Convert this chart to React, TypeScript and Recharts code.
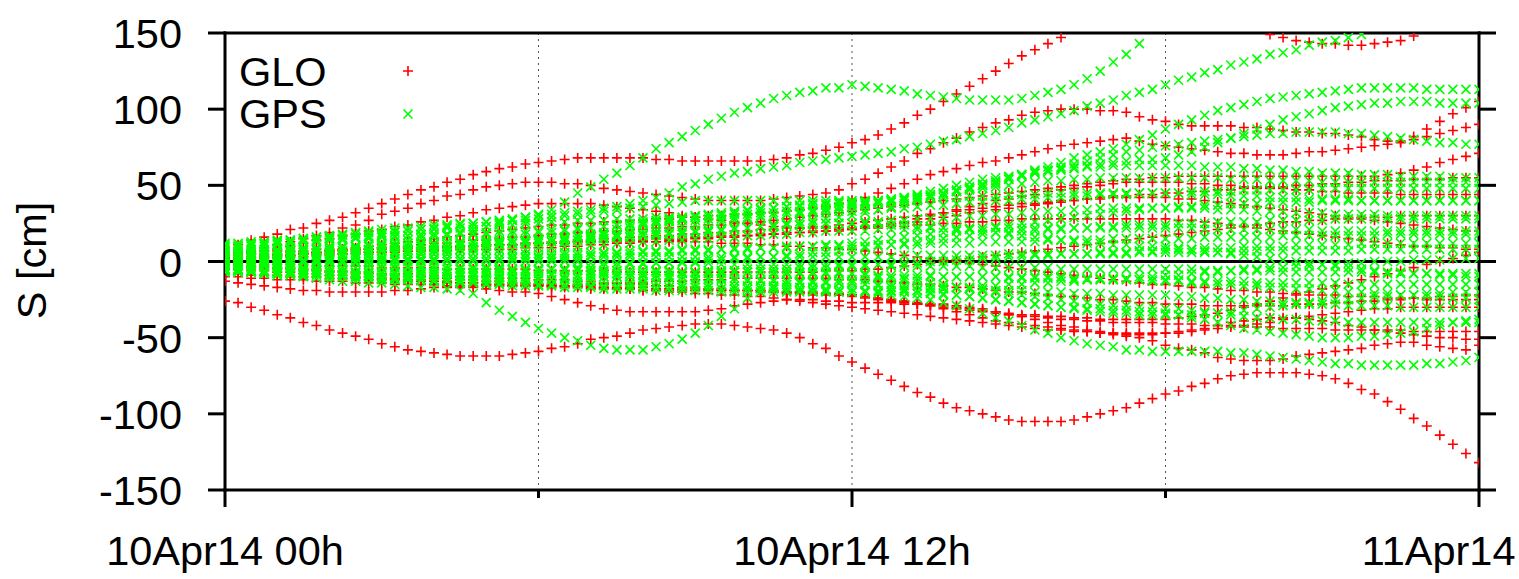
import React from 'react';
import { ScatterChart, Scatter, XAxis, YAxis, CartesianGrid, ReferenceLine, Legend } from 'recharts';

// one epoch every 15 minutes, 97 epochs over the day
const STEP_HOURS = 0.25;
const X_TICKS = [0, 6, 12, 18, 24];
const X_LABELS: Record<number, string> = { 0: '10Apr14 00h', 12: '10Apr14 12h', 24: '11Apr14 00h' };
const Y_TICKS = [-150, -100, -50, 0, 50, 100, 150];

const GLO_COLOR = '#ff0000';
const GPS_COLOR = '#00ff00';
const FONT = "'Liberation Sans', Arial, Helvetica, sans-serif";

// ---- GLO satellites (cm) ----
const GLO_R01 = [-26,-27,-30,-32,-35,-37,-40,-42,-45,-47,-49,-51,
  -54,-56,-58,-59,-60,-61,-62,-62,-62,-62,-61,-60,
  -59,-57,-56,-54,-51,-50,-49,-47,-45,-44,-43,-42,
  -41,-41,-41,-42,-43,-44,-45,-47,-50,-54,-57,-62,
  -66,-70,-74,-78,-82,-86,-89,-93,-96,-98,-100,-102,
  -104,-105,-105,-105,-105,-104,-102,-100,-98,-96,-93,-90,
  -87,-85,-82,-80,-77,-75,-74,-73,-73,-73,-73,-74,
  -75,-77,-80,-84,-87,-92,-97,-103,-108,-114,-120,-126,
  -132];
const GLO_R02 = [9,11,14,16,18,21,22,25,27,29,32,35,
  38,41,44,47,49,52,54,57,59,61,62,64,
  65,66,67,68,68,68,68,68,68,67,67,66,
  66,66,66,66,66,66,67,68,70,71,73,75,
  78,80,83,87,91,96,100,105,110,115,120,125,
  130,135,139,143,147,151,155,159,162,164,165,165,
  164,162,160,157,155,153,152,151,149,147,145,144,
  143,143,142,142,143,144,145,148,151,154,157,160,
  163];
const GLO_R04 = [3,5,7,9,11,13,15,17,19,22,24,27,
  31,33,35,38,40,43,44,47,49,50,51,52,
  52,52,51,51,50,48,47,46,45,44,43,42,
  41,40,40,40,40,40,41,42,43,44,45,47,
  51,54,58,62,66,71,74,78,81,85,88,91,
  93,96,98,99,100,100,100,99,99,98,95,93,
  92,90,89,89,89,89,88,88,87,86,85,85,
  84,84,83,82,80,79,79,82,87,92,97,101,
  105];
const GLO_R05 = [0,1,2,3,3,4,5,6,7,8,9,10,
  11,12,13,14,15,16,17,18,19,20,21,22,
  23,24,24,25,25,26,26,27,27,28,28,29,
  29,30,30,31,31,32,32,33,34,35,36,38,
  40,42,45,48,51,54,57,59,61,63,65,66,
  68,70,72,74,76,77,78,79,80,81,79,77,
  76,75,74,73,72,71,71,70,70,70,71,72,
  72,73,74,75,76,77,78,80,82,84,86,88,
  90];
const GLO_R06 = [-5,-5,-6,-6,-7,-7,-8,-8,-9,-9,-10,-10,
  -11,-11,-12,-12,-13,-13,-14,-14,-15,-15,-16,-16,
  -16,-17,-17,-17,-18,-18,-18,-18,-19,-19,-19,-19,
  -19,-19,-19,-19,-19,-19,-19,-20,-20,-20,-21,-21,
  -22,-23,-24,-25,-26,-28,-29,-31,-33,-35,-37,-39,
  -40,-41,-42,-43,-44,-45,-46,-47,-48,-49,-50,-52,
  -55,-57,-58,-60,-63,-64,-65,-65,-65,-64,-62,-61,
  -60,-59,-58,-57,-55,-54,-53,-53,-55,-56,-57,-58,
  -55];
const GLO_R08 = [-13,-14,-15,-16,-17,-18,-19,-19,-20,-20,-20,-20,
  -20,-19,-19,-18,-17,-17,-17,-17,-18,-19,-20,-20,
  -21,-23,-25,-27,-29,-31,-32,-33,-33,-33,-33,-33,
  -33,-32,-31,-29,-28,-27,-26,-25,-25,-25,-26,-26,
  -27,-27,-27,-27,-28,-28,-28,-28,-29,-30,-31,-33,
  -35,-36,-38,-40,-42,-43,-45,-46,-47,-48,-48,-48,
  -47,-46,-45,-44,-42,-40,-39,-38,-37,-37,-37,-38,
  -39,-40,-42,-43,-45,-46,-47,-48,-49,-50,-50,-51,
  -51];
const GLO_R09 = [1,2,2,3,4,4,5,6,6,7,8,8,
  9,10,10,11,12,12,13,14,14,15,16,16,
  17,18,18,19,19,20,20,21,21,22,22,23,
  23,24,24,25,25,26,27,28,29,30,31,32,
  33,34,35,36,37,38,39,40,41,42,43,44,
  45,46,47,48,49,50,51,52,53,54,54,55,
  55,56,56,56,56,56,56,56,56,56,56,56,
  56,56,56,56,56,57,58,60,62,65,67,69,
  71];
const GLO_R10 = [2,3,5,7,8,10,12,14,15,17,18,20,
  21,23,24,26,27,29,30,32,34,35,36,37,
  38,38,38,38,38,37,36,35,34,33,32,30,
  29,28,27,26,25,24,23,23,22,22,22,22,
  22,23,24,25,26,28,30,32,34,36,38,40,
  41,43,44,46,47,48,49,50,51,52,52,52,
  52,52,51,51,50,50,49,49,48,48,47,47,
  46,46,45,45,45,45,44,44,44,44,44,44,
  44];
const GLO_R11 = [0,1,1,2,2,3,3,4,4,5,5,6,
  6,7,7,8,8,9,9,10,10,11,11,12,
  12,13,13,14,14,15,15,16,16,17,17,18,
  18,19,19,20,20,21,21,22,22,23,23,24,
  25,26,27,28,29,30,31,32,33,34,35,36,
  37,38,38,39,40,40,41,41,42,42,42,42,
  42,41,41,40,39,38,37,36,35,34,33,32,
  31,30,29,28,27,26,25,24,23,22,21,20,
  20];
const GLO_R12 = [-3,-3,-4,-4,-5,-5,-6,-6,-7,-7,-8,-8,
  -9,-9,-10,-10,-11,-11,-12,-12,-13,-13,-14,-14,
  -15,-15,-16,-16,-17,-17,-18,-18,-19,-19,-20,-20,
  -21,-21,-22,-22,-23,-23,-24,-25,-26,-27,-28,-29,
  -30,-31,-32,-33,-34,-35,-36,-37,-38,-39,-40,-41,
  -42,-43,-44,-45,-45,-46,-46,-47,-47,-47,-47,-47,
  -47,-47,-46,-45,-44,-43,-42,-41,-40,-38,-37,-36,
  -35,-34,-33,-32,-31,-31,-30,-30,-30,-30,-30,-30,
  -30];
const GLO_R13 = [-8,-8,-9,-9,-9,-10,-10,-10,-11,-11,-11,-12,
  -12,-12,-13,-13,-13,-14,-14,-14,-15,-15,-15,-15,
  -15,-16,-16,-16,-16,-17,-17,-17,-17,-18,-18,-18,
  -18,-18,-19,-19,-19,-19,-20,-20,-20,-21,-21,-22,
  -22,-23,-24,-25,-26,-27,-28,-29,-30,-31,-32,-33,
  -34,-35,-35,-36,-36,-37,-37,-38,-38,-38,-38,-38,
  -38,-37,-36,-35,-34,-32,-30,-28,-26,-24,-22,-20,
  -18,-16,-14,-12,-10,-8,-6,-4,-2,0,2,4,
  6];
const GLO_R14 = [4,4,5,5,5,6,6,6,7,7,7,8,
  8,8,9,9,9,10,10,10,11,11,11,12,
  12,12,12,13,13,13,13,13,13,13,13,13,
  13,13,12,12,12,11,11,10,10,9,9,8,
  8,7,6,5,4,3,2,1,0,-1,-2,-3,
  -4,-5,-6,-7,-8,-9,-10,-11,-12,-13,-14,-15,
  -15,-16,-17,-17,-18,-19,-19,-20,-20,-21,-21,-22,
  -22,-22,-23,-23,-23,-24,-24,-24,-25,-25,-25,-25,
  -25];
const GLO_R15 = [-1,-1,-1,-2,-2,-2,-2,-3,-3,-3,-3,-3,
  -4,-4,-4,-4,-4,-5,-5,-5,-5,-5,-5,-5,
  -6,-6,-6,-6,-6,-6,-7,-7,-7,-7,-7,-7,
  -7,-7,-7,-7,-7,-7,-7,-7,-7,-7,-6,-6,
  -6,-5,-5,-4,-3,-2,-1,0,1,2,3,4,
  5,6,7,8,9,10,11,12,13,14,15,16,
  17,18,19,20,21,22,23,24,25,26,26,27,
  27,28,28,29,29,29,30,30,30,30,30,30,
  30];
const GLO_R16 = [6,6,6,7,7,7,7,8,8,8,8,8,
  9,9,9,9,10,10,10,10,11,11,11,11,
  12,12,12,13,13,13,14,14,14,15,15,15,
  16,16,17,17,17,18,18,19,19,20,20,21,
  21,22,22,23,23,24,24,25,25,26,26,27,
  27,28,28,28,28,28,28,28,28,28,28,28,
  28,27,27,26,25,24,23,22,21,20,19,18,
  17,16,15,14,13,12,11,10,10,9,9,8,
  8];
const GLO_R17 = [-10,-10,-11,-11,-12,-12,-12,-13,-13,-13,-14,-14,
  -14,-15,-15,-15,-15,-16,-16,-16,-16,-16,-16,-16,
  -16,-16,-16,-15,-15,-15,-14,-14,-14,-13,-13,-13,
  -12,-12,-12,-11,-11,-11,-11,-11,-11,-11,-11,-12,
  -12,-12,-13,-13,-14,-15,-15,-16,-17,-17,-18,-19,
  -20,-20,-21,-22,-23,-23,-24,-25,-25,-26,-27,-27,
  -28,-28,-28,-29,-29,-29,-29,-29,-29,-29,-28,-28,
  -28,-27,-27,-26,-26,-25,-25,-24,-24,-23,-23,-22,
  -22];
const GLO_R18 = [-2,-2,-3,-3,-4,-4,-5,-5,-6,-6,-7,-7,
  -8,-8,-8,-9,-9,-9,-10,-10,-10,-11,-11,-11,
  -12,-12,-12,-13,-13,-14,-14,-15,-15,-16,-16,-17,
  -17,-18,-18,-19,-19,-20,-20,-21,-21,-22,-22,-22,
  -23,-24,-25,-26,-27,-28,-29,-30,-31,-32,-33,-34,
  -35,-36,-36,-37,-38,-38,-39,-39,-40,-40,-40,-40,
  -41,-41,-41,-42,-42,-42,-43,-43,-43,-44,-44,-44,
  -44,-45,-45,-45,-45,-45,-45,-46,-46,-46,-46,-46,
  -46];
const GLO_R19 = [3,3,3,4,4,4,5,5,5,5,6,6,
  6,6,7,7,7,7,8,8,8,8,8,9,
  9,9,10,10,11,11,12,12,13,13,14,14,
  15,15,16,16,17,17,18,18,19,19,20,20,
  21,22,23,24,25,26,28,29,30,32,33,34,
  35,36,37,38,39,40,41,42,43,43,44,44,
  45,45,46,46,47,47,48,48,49,49,50,50,
  51,51,52,52,53,53,53,54,54,54,55,55,
  55];

// ---- GPS satellites (cm) ----
const GPS_G01 = [4,5,5,6,6,7,7,8,8,9,10,11,
  12,13,14,15,16,17,19,21,23,25,27,29,
  31,34,39,45,49,54,58,63,68,74,78,82,
  86,90,94,98,101,104,107,109,111,112,114,114,
  116,115,114,113,112,110,109,108,107,106,106,106,
  106,107,109,111,113,116,120,125,131,136,143,151,
  157,164,170,176,181,186,190,193,196,198,199,200,
  200,199,198,196,193,190,186,182,177,172,167,162,
  157];
const GPS_G02 = [8,9,10,10,11,12,13,14,15,15,16,17,
  18,19,20,21,22,23,24,25,26,27,28,29,
  30,31,32,33,34,35,36,38,40,42,45,49,
  51,54,56,58,59,61,62,63,65,66,67,68,
  69,70,71,72,74,75,77,79,80,82,84,86,
  88,91,93,95,97,99,102,104,106,109,111,113,
  116,119,121,124,126,129,131,133,136,137,139,142,
  144,145,147,149,152,154,156,158,160,162,164,165,
  166];
const GPS_G03 = [-2,-1,-1,0,0,1,1,2,2,3,3,4,
  4,5,5,6,7,7,8,9,10,11,12,13,
  14,15,16,17,18,19,21,22,24,25,27,28,
  29,30,31,32,33,34,35,36,37,38,38,39,
  39,39,40,40,41,42,43,44,46,48,50,51,
  54,57,60,62,65,68,70,72,74,77,80,83,
  87,90,93,96,99,101,103,105,107,108,109,110,
  111,112,113,114,114,114,114,114,113,113,113,113,
  113];
const GPS_G04 = [3,3,4,4,5,5,6,6,7,7,8,8,
  9,9,10,10,11,11,12,12,13,13,14,14,
  15,15,16,17,17,18,18,19,20,21,22,23,
  24,25,26,27,28,29,30,31,32,33,34,35,
  36,37,38,39,40,41,43,45,47,49,51,53,
  55,57,59,60,61,62,63,64,65,66,67,67,
  68,70,72,75,78,81,84,87,90,93,95,97,
  99,101,102,103,104,104,105,105,105,104,104,104,
  104];
const GPS_G05 = [1,1,2,2,3,3,4,4,5,5,6,6,
  7,7,8,8,9,9,10,10,11,11,12,12,
  13,13,14,14,15,15,16,16,17,17,18,18,
  19,19,20,21,22,23,24,25,26,27,28,29,
  30,32,34,36,38,40,42,44,46,48,50,52,
  54,56,58,60,62,64,66,68,70,72,73,75,
  76,77,78,79,80,81,82,83,84,84,85,85,
  85,85,84,84,83,82,81,80,79,78,78,77,
  77];
const GPS_G06 = [-6,-7,-7,-8,-9,-9,-10,-11,-12,-13,-13,-14,
  -14,-15,-16,-17,-17,-18,-19,-21,-27,-32,-36,-40,
  -44,-47,-50,-52,-55,-57,-58,-58,-58,-56,-54,-51,
  -47,-42,-36,-31,-24,-20,-17,-15,-14,-13,-13,-12,
  -12,-12,-11,-11,-11,-11,-10,-10,-10,-10,-10,-10,
  -10,-10,-10,-10,-10,-11,-11,-11,-12,-12,-12,-13,
  -13,-13,-14,-14,-15,-15,-16,-16,-17,-17,-18,-18,
  -19,-19,-20,-20,-21,-21,-22,-22,-23,-23,-24,-24,
  -25];
const GPS_G07 = [-6,-6,-7,-7,-8,-8,-9,-9,-10,-10,-11,-11,
  -12,-12,-12,-12,-13,-13,-13,-13,-14,-14,-14,-14,
  -15,-15,-15,-15,-16,-16,-16,-16,-16,-17,-17,-17,
  -17,-17,-18,-18,-18,-18,-18,-19,-19,-19,-19,-20,
  -20,-20,-21,-22,-23,-24,-25,-27,-29,-31,-34,-37,
  -39,-42,-45,-47,-50,-52,-54,-55,-56,-58,-58,-59,
  -59,-59,-59,-59,-59,-60,-60,-61,-62,-63,-64,-65,
  -66,-67,-67,-68,-68,-68,-68,-68,-67,-67,-66,-65,
  -63];
const GPS_G08 = [-2,-2,-3,-3,-4,-4,-5,-5,-6,-6,-7,-7,
  -8,-8,-9,-9,-9,-10,-10,-10,-11,-11,-11,-12,
  -12,-12,-12,-13,-13,-13,-13,-14,-14,-14,-14,-15,
  -15,-15,-15,-16,-16,-16,-16,-17,-17,-17,-18,-18,
  -18,-19,-19,-20,-20,-21,-21,-22,-22,-23,-24,-25,
  -26,-27,-28,-29,-30,-30,-31,-31,-32,-32,-33,-33,
  -34,-35,-37,-38,-40,-42,-44,-45,-46,-47,-48,-49,
  -50,-50,-50,-49,-49,-48,-47,-46,-44,-42,-40,-39,
  -38];
const GPS_G09 = [11,11,12,12,13,13,14,14,15,15,16,16,
  17,17,17,18,18,18,18,18,18,18,18,18,
  19,19,20,21,22,23,24,25,26,27,28,29,
  30,31,32,33,34,35,35,36,36,37,37,38,
  38,39,40,41,42,43,44,45,46,47,48,49,
  50,51,52,53,53,54,54,55,55,55,55,55,
  55,55,55,55,55,54,54,54,53,53,53,53,
  52,52,52,52,52,52,52,52,52,52,52,52,
  52];
const GPS_G10 = [9,10,11,12,13,14,15,16,17,18,19,20,
  21,22,22,23,24,24,25,25,26,26,27,27,
  28,29,30,31,32,33,34,35,36,37,38,39,
  40,40,40,40,40,40,40,40,40,40,40,40,
  40,40,40,41,41,41,42,42,42,43,43,43,
  44,44,44,45,45,45,45,45,45,45,45,45,
  45,45,44,44,44,43,43,43,42,42,42,41,
  41,41,41,40,40,40,40,40,40,40,40,40,
  40];
const GPS_G11 = [7,7,8,8,8,9,9,9,10,10,10,11,
  11,11,12,12,12,13,13,13,14,14,14,14,
  14,15,15,16,16,17,17,18,18,19,19,20,
  20,21,21,22,22,23,23,24,24,25,25,25,
  25,26,26,27,27,28,28,29,29,30,30,31,
  31,32,32,33,33,34,34,35,35,35,35,35,
  35,35,35,35,34,34,34,33,33,33,32,32,
  32,31,31,31,31,30,30,30,30,30,30,30,
  30];
const GPS_G12 = [5,5,5,5,6,6,6,6,6,7,7,7,
  7,7,7,8,8,8,8,8,8,8,8,8,
  9,9,10,10,11,11,12,12,13,13,14,14,
  15,15,16,16,17,17,18,18,19,19,20,20,
  20,20,21,21,21,21,22,22,22,22,22,22,
  22,22,22,22,22,22,22,22,22,22,22,22,
  22,22,22,21,21,21,21,21,21,21,21,21,
  20,20,20,20,20,20,20,20,20,20,20,20,
  20];
const GPS_G13 = [3,3,3,3,3,4,4,4,4,4,4,4,
  4,5,5,5,5,5,5,5,5,5,5,5,
  5,5,6,6,6,6,6,7,7,7,7,8,
  8,8,8,9,9,9,9,9,10,10,10,10,
  10,10,11,11,11,11,12,12,12,12,13,13,
  13,13,13,14,14,14,14,14,15,15,15,15,
  15,15,15,16,16,16,16,16,16,17,17,17,
  17,17,17,17,17,18,18,18,18,18,18,18,
  18];
const GPS_G14 = [1,1,1,1,1,1,1,1,1,1,2,2,
  2,2,2,2,2,2,2,2,2,2,2,2,
  2,2,2,2,3,3,3,3,3,3,3,3,
  3,3,3,3,3,3,3,3,3,3,3,3,
  3,3,3,3,4,4,4,4,4,4,4,4,
  5,5,5,5,5,5,5,5,5,5,6,6,
  6,6,6,6,6,6,7,7,7,7,7,7,
  7,7,7,8,8,8,8,8,8,8,8,8,
  8];
const GPS_G15 = [-1,-1,-1,-1,-1,-1,-1,-1,0,0,0,0,
  0,0,0,0,0,0,0,0,0,0,0,0,
  0,0,0,0,-1,-1,-1,-1,-1,-1,-1,-1,
  -1,-1,-2,-2,-2,-2,-2,-2,-2,-2,-2,-2,
  -2,-2,-2,-3,-3,-3,-3,-3,-3,-3,-4,-4,
  -4,-4,-4,-4,-5,-5,-5,-5,-5,-5,-5,-5,
  -5,-5,-5,-6,-6,-6,-6,-6,-6,-7,-7,-7,
  -7,-7,-7,-7,-7,-8,-8,-8,-8,-8,-8,-8,
  -8];
const GPS_G16 = [-3,-3,-3,-3,-3,-3,-4,-4,-4,-4,-4,-4,
  -4,-4,-4,-5,-5,-5,-5,-5,-5,-5,-5,-5,
  -5,-5,-5,-5,-6,-6,-6,-6,-6,-6,-6,-7,
  -7,-7,-7,-7,-7,-7,-8,-8,-8,-8,-8,-8,
  -8,-8,-9,-9,-9,-9,-9,-10,-10,-10,-10,-10,
  -11,-11,-11,-11,-11,-12,-12,-12,-12,-12,-12,-12,
  -12,-12,-13,-13,-13,-13,-13,-14,-14,-14,-14,-14,
  -14,-14,-15,-15,-15,-15,-15,-15,-15,-15,-15,-15,
  -15];
const GPS_G17 = [-5,-5,-5,-6,-6,-6,-6,-6,-7,-7,-7,-7,
  -7,-7,-7,-7,-8,-8,-8,-8,-8,-8,-8,-8,
  -8,-8,-9,-9,-9,-10,-10,-10,-11,-11,-11,-12,
  -12,-12,-12,-13,-13,-13,-13,-13,-14,-14,-14,-14,
  -14,-15,-15,-15,-16,-16,-17,-17,-17,-18,-18,-19,
  -19,-19,-20,-20,-20,-21,-21,-21,-22,-22,-22,-22,
  -22,-23,-23,-24,-24,-25,-25,-26,-26,-27,-27,-28,
  -28,-28,-29,-29,-29,-29,-30,-30,-30,-30,-30,-30,
  -30];
const GPS_G18 = [-5,-5,-6,-6,-7,-7,-8,-8,-9,-9,-10,-10,
  -11,-11,-11,-12,-12,-12,-12,-12,-12,-12,-12,-12,
  -12,-12,-11,-11,-11,-10,-10,-10,-9,-9,-9,-8,
  -8,-8,-8,-7,-7,-7,-7,-7,-7,-7,-7,-7,
  -8,-9,-10,-11,-12,-13,-14,-15,-17,-18,-19,-20,
  -21,-22,-23,-24,-25,-26,-27,-28,-29,-29,-30,-30,
  -31,-31,-32,-33,-34,-35,-36,-37,-37,-38,-38,-39,
  -39,-39,-40,-40,-40,-40,-40,-40,-40,-40,-40,-40,
  -40];
const GPS_G19 = [-5,-5,-6,-6,-7,-7,-8,-8,-9,-9,-10,-10,
  -11,-11,-12,-12,-13,-13,-14,-14,-15,-15,-16,-16,
  -16,-16,-17,-17,-17,-18,-18,-18,-18,-19,-19,-19,
  -19,-19,-20,-20,-20,-20,-20,-20,-20,-20,-20,-20,
  -20,-20,-20,-19,-19,-19,-18,-18,-17,-17,-16,-16,
  -15,-15,-14,-14,-13,-13,-12,-12,-11,-11,-10,-10,
  -9,-9,-8,-7,-7,-6,-5,-5,-4,-4,-3,-3,
  -2,-2,-1,-1,0,0,0,1,1,1,2,2,
  2];
const GPS_G20 = [-6,-6,-6,-6,-7,-7,-7,-7,-7,-7,-8,-8,
  -8,-8,-8,-8,-7,-7,-7,-7,-7,-6,-6,-6,
  -6,-5,-5,-4,-4,-3,-3,-2,-2,-1,-1,0,
  0,1,1,2,2,3,3,4,5,6,6,7,
  8,9,10,11,12,13,14,15,16,17,18,19,
  19,20,20,21,21,22,22,23,23,24,24,24,
  24,25,25,25,26,26,26,26,27,27,27,27,
  27,28,28,28,28,28,28,28,28,28,28,28,
  28];
const GPS_G21 = [12,12,13,13,14,14,15,16,16,17,18,19,
  19,20,20,21,21,22,22,23,23,24,24,25,
  25,26,26,27,27,27,28,28,28,29,29,29,
  30,30,30,31,31,32,32,33,33,34,35,36,
  37,38,39,40,42,44,46,48,50,52,54,55,
  56,57,58,59,60,61,62,62,63,63,63,63,
  63,63,63,62,62,62,61,61,60,60,59,59,
  58,58,58,57,57,57,56,56,56,56,55,55,
  55];
const GPS_G22 = [-7,-7,-7,-8,-8,-8,-8,-8,-9,-9,-9,-9,
  -10,-10,-10,-10,-10,-10,-10,-10,-10,-10,-10,-10,
  -10,-9,-9,-9,-9,-8,-8,-8,-8,-7,-7,-7,
  -7,-6,-6,-6,-5,-5,-5,-5,-4,-4,-4,-3,
  -3,-3,-2,-2,-1,-1,0,0,1,1,2,2,
  3,3,4,4,5,5,5,6,6,6,7,7,
  8,8,8,9,9,9,10,10,10,10,11,11,
  11,11,11,12,12,12,12,12,12,12,12,12,
  12];
const GPS_G23 = [10,10,11,11,12,12,13,13,14,14,15,15,
  16,16,17,17,18,18,19,19,19,20,20,20,
  20,21,21,22,22,23,24,24,25,26,26,27,
  27,28,28,29,29,30,30,31,31,32,32,33,
  33,34,34,35,35,36,37,37,38,39,39,40,
  40,41,41,42,42,43,43,44,44,44,45,45,
  45,45,46,46,46,46,47,47,47,47,47,47,
  48,48,48,48,48,48,48,48,48,48,48,48,
  48];
const GPS_G24 = [-3,-3,-2,-2,-2,-1,-1,-1,0,0,0,0,
  1,1,1,1,1,2,2,2,2,2,3,3,
  3,3,4,4,4,5,5,5,6,6,6,7,
  7,7,8,8,8,9,9,10,10,10,11,11,
  12,13,14,15,16,17,18,19,20,21,22,23,
  24,25,26,27,28,29,30,31,32,33,34,35,
  35,36,36,37,37,38,38,38,39,39,39,39,
  40,40,40,40,40,40,40,40,40,40,40,40,
  40];
const GPS_G25 = [2,2,1,1,1,0,0,0,-1,-1,-1,-2,
  -2,-2,-3,-3,-3,-3,-4,-4,-4,-4,-5,-5,
  -5,-5,-6,-6,-7,-7,-8,-8,-9,-9,-10,-10,
  -10,-11,-11,-11,-12,-12,-12,-13,-13,-13,-14,-14,
  -14,-15,-16,-17,-18,-19,-20,-21,-22,-23,-24,-25,
  -26,-27,-28,-29,-30,-31,-32,-33,-34,-34,-35,-35,
  -35,-35,-35,-34,-34,-33,-32,-31,-30,-29,-28,-27,
  -26,-25,-25,-24,-23,-23,-22,-22,-21,-21,-20,-20,
  -20];
const GPS_G26 = [6,6,7,7,7,8,8,8,9,9,9,10,
  10,10,10,11,11,11,11,12,12,12,12,12,
  12,13,13,14,14,15,16,16,17,18,18,19,
  20,20,21,22,22,23,23,24,24,25,25,25,
  25,25,25,24,24,23,23,22,21,21,20,19,
  18,17,16,15,14,13,12,12,11,11,10,10,
  10,9,8,7,6,5,4,3,2,1,0,-1,
  -2,-3,-4,-5,-6,-7,-7,-8,-8,-9,-9,-10,
  -10];

const GLO_TRACKS = [GLO_R01, GLO_R02, GLO_R04, GLO_R05, GLO_R06, GLO_R08, GLO_R09, GLO_R10,
  GLO_R11, GLO_R12, GLO_R13, GLO_R14, GLO_R15, GLO_R16, GLO_R17, GLO_R18, GLO_R19];
const GPS_TRACKS = [GPS_G01, GPS_G02, GPS_G03, GPS_G04, GPS_G05, GPS_G06, GPS_G07, GPS_G08,
  GPS_G09, GPS_G10, GPS_G11, GPS_G12, GPS_G13, GPS_G14, GPS_G15, GPS_G16, GPS_G17, GPS_G18,
  GPS_G19, GPS_G20, GPS_G21, GPS_G22, GPS_G23, GPS_G24, GPS_G25, GPS_G26];

// flatten every satellite track into (t, s) points, dropping what falls off the plot
const toPoints = (tracks: number[][]) =>
  tracks
    .flatMap((track) => track.map((s, i) => ({ t: i * STEP_HOURS, s })))
    .filter((p) => p.s >= -150 && p.s <= 150);

const gloData = toPoints(GLO_TRACKS);
const gpsData = toPoints(GPS_TRACKS);

const PlusMark = (props: any) => {
  const { cx, cy } = props;
  if (cx == null || cy == null) return <g />;
  return <path d={`M${cx - 5},${cy}h10M${cx},${cy - 5}v10`} stroke={GLO_COLOR} strokeWidth={1.6} fill="none" />;
};

const CrossMark = (props: any) => {
  const { cx, cy } = props;
  if (cx == null || cy == null) return <g />;
  return <path d={`M${cx - 4.5},${cy - 4.5}l9,9M${cx - 4.5},${cy + 4.5}l9,-9`} stroke={GPS_COLOR} strokeWidth={1.6} fill="none" />;
};

const textStyle = { fontFamily: FONT, fontSize: 41.5, fill: '#000' };

const BottomTick = ({ x, y, payload }: any) => {
  const label = X_LABELS[payload.value];
  return (
    <g>
      <line x1={x} y1={y} x2={x} y2={y + (label ? 17 : 8)} stroke="#000" strokeWidth={3} />
      {label && <text x={x} y={y + 75} textAnchor="middle" style={textStyle}>{label}</text>}
    </g>
  );
};

const TopTick = ({ x, y, payload }: any) => (
  <line x1={x} y1={y} x2={x} y2={y - (X_LABELS[payload.value] ? 17 : 8)} stroke="#000" strokeWidth={3} />
);

const LeftTick = ({ x, y, payload }: any) => (
  <g>
    <line x1={x} y1={y} x2={x - 17} y2={y} stroke="#000" strokeWidth={3} />
    <text x={x - 43} y={y + 15} textAnchor="end" style={textStyle}>{payload.value}</text>
  </g>
);

const RightTick = ({ x, y }: any) => (
  <line x1={x} y1={y} x2={x + 17} y2={y} stroke="#000" strokeWidth={3} />
);

const AxisTitle = (props: any) => {
  const vb = props.viewBox || { x: 224, y: 33, width: 1, height: 457 };
  const tx = vb.x + (vb.width || 0) - 179;
  const ty = vb.y + vb.height / 2 - 1;
  return (
    <text x={tx} y={ty} transform={`rotate(-90, ${tx}, ${ty})`} textAnchor="middle" style={textStyle}>
      S [cm]
    </text>
  );
};

const LegendBox = () => (
  <svg width={440} height={140} style={{ display: 'block' }}>
    <text x={239} y={86} style={textStyle}>GLO</text>
    <PlusMark cx={408} cy={71} />
    <text x={239} y={128} style={textStyle}>GPS</text>
    <CrossMark cx={408} cy={114} />
  </svg>
);

const axisLine = { stroke: '#000', strokeWidth: 3, strokeLinecap: 'square' as const };

export default function App() {
  return (
    <div style={{ position: 'absolute', left: 0, top: 0, width: 1519, height: 579, background: '#fff', overflow: 'hidden' }}>
      {/* axes are 1px thick boxes, the plot area itself is x 225..1479, y 33..490 */}
      <ScatterChart width={1519} height={579} margin={{ top: 32, right: 39, bottom: 88, left: 224 }}>
        <CartesianGrid horizontal={false} stroke="#555" strokeDasharray="2 4" strokeWidth={1} />
        <XAxis
          type="number" dataKey="t" domain={[0, 24]} ticks={X_TICKS} interval={0}
          height={1} tickSize={0} tickMargin={0} tickLine={false} axisLine={axisLine}
          tick={(p: any) => <BottomTick {...p} />} allowDataOverflow
        />
        <XAxis
          xAxisId="top" orientation="top" type="number" domain={[0, 24]} ticks={X_TICKS} interval={0}
          height={1} tickSize={0} tickMargin={0} tickLine={false} axisLine={axisLine}
          tick={(p: any) => <TopTick {...p} />} allowDataOverflow
        />
        <YAxis
          type="number" dataKey="s" domain={[-150, 150]} ticks={Y_TICKS} interval={0}
          width={1} tickSize={0} tickMargin={0} tickLine={false} axisLine={axisLine}
          tick={(p: any) => <LeftTick {...p} />} allowDataOverflow label={AxisTitle}
        />
        <YAxis
          yAxisId="right" orientation="right" type="number" domain={[-150, 150]} ticks={Y_TICKS} interval={0}
          width={1} tickSize={0} tickMargin={0} tickLine={false} axisLine={axisLine}
          tick={(p: any) => <RightTick {...p} />} allowDataOverflow
        />
        <Scatter name="GLO" data={gloData} shape={PlusMark} isAnimationActive={false} />
        <Scatter name="GPS" data={gpsData} shape={CrossMark} isAnimationActive={false} />
        <ReferenceLine y={0} stroke="#000" strokeWidth={3} />
        <Legend
          layout="horizontal" verticalAlign="middle" align="center"
          wrapperStyle={{ position: 'absolute', left: 0, top: 0, width: 440, height: 140 }}
          content={() => <LegendBox />}
        />
      </ScatterChart>
    </div>
  );
}
